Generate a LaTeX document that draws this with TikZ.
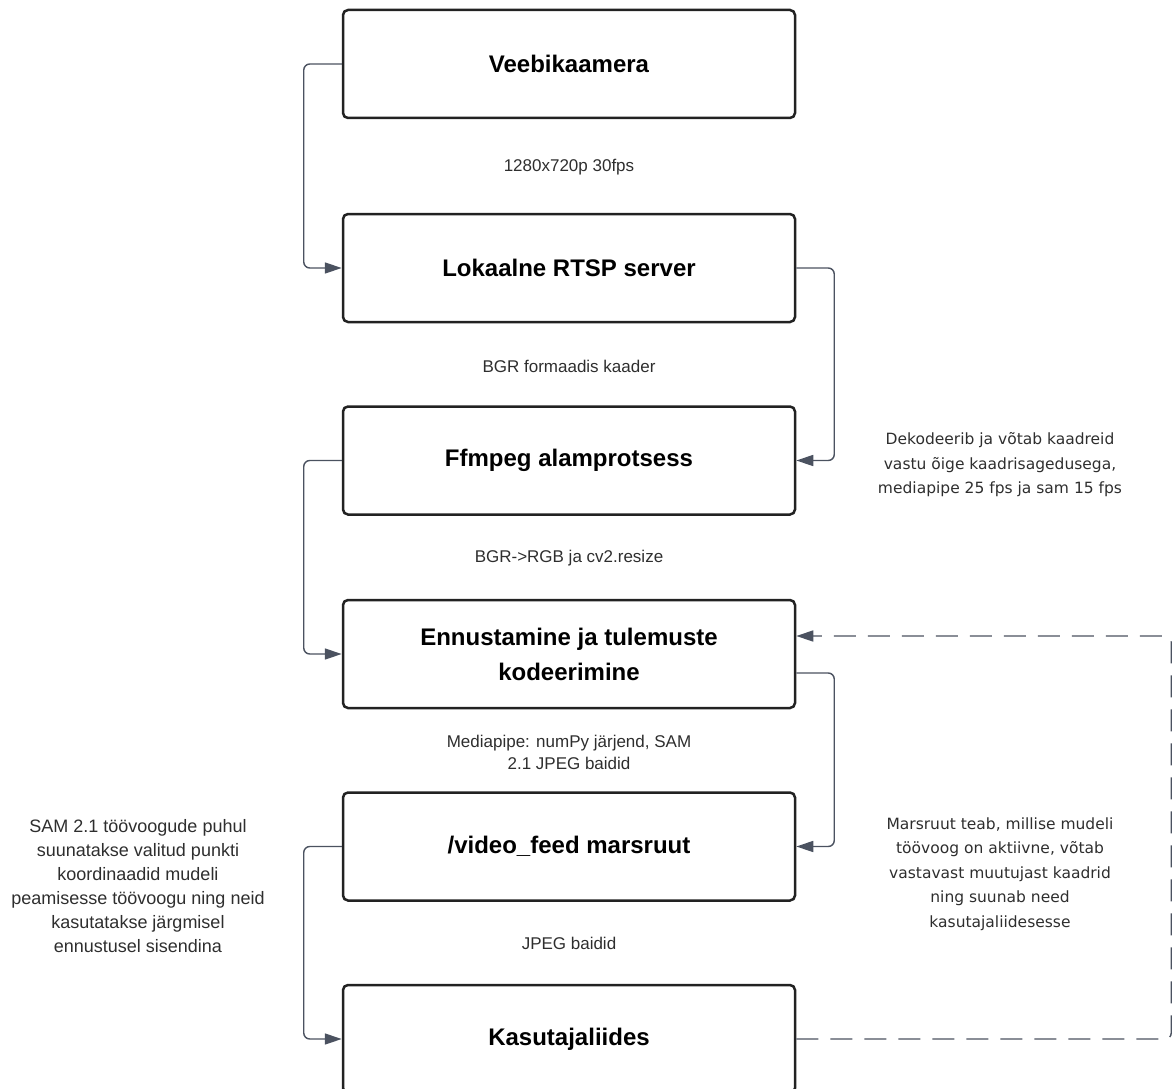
\documentclass[tikz,border=0pt]{standalone}
\usepackage{fontspec}
\setmainfont{Liberation Sans}
\newfontfamily\notefont{DejaVu Sans}
\usetikzlibrary{arrows.meta}
\definecolor{boxline}{HTML}{222222}
\definecolor{linkgray}{HTML}{4B5260}
\definecolor{labelgray}{HTML}{2E2E2E}
\tikzset{
  stage/.style={draw=boxline, line width=2.5pt, rounded corners=5pt, fill=white,
    minimum width=452pt, minimum height=108pt, align=center,
    font=\fontsize{24}{35}\selectfont\bfseries},
  link/.style={draw=linkgray, line width=1.4pt, rounded corners=6pt,
    -{Triangle[length=17pt,width=11pt]}},
  feedback/.style={link, dash pattern=on 22pt off 12pt},
  flowlabel/.style={font=\fontsize{17}{22}\selectfont, text=labelgray, align=center},
  sidenote/.style={font=\notefont\fontsize{15.5}{24.5}\selectfont, text=labelgray, align=center},
  leftnote/.style={font=\fontsize{18}{24}\selectfont, text=labelgray, align=center}
}
\begin{document}
\begin{tikzpicture}[x=1pt, y=-1pt]
  \useasboundingbox (0,0) rectangle (1176,1089);
  % pipeline stages
  \node[stage] (cam) at (569,64) {Veebikaamera};
  \node[stage] (rtsp) at (569,268) {Lokaalne RTSP server};
  \node[stage] (ffm) at (569,460.5) {Ffmpeg alamprotsess};
  \node[stage] (pred) at (569,654) {Ennustamine ja tulemuste\\kodeerimine};
  \node[stage] (route) at (569,846.5) {/video\_feed marsruut};
  \node[stage] (ui) at (569,1039) {Kasutajaliides};
  % labels between stages
  \node[flowlabel] (l1) at (569,167) {1280x720p 30fps};
  \node[flowlabel] (l2) at (569,366) {BGR formaadis kaader};
  \node[flowlabel] (l3) at (569,558) {BGR->RGB ja cv2.resize};
  \node[flowlabel] (l4) at (569,752) {Mediapipe: numPy järjend, SAM\\2.1 JPEG baidid};
  \node[flowlabel] (l5) at (569,943) {JPEG baidid};
  % side notes
  \node[sidenote] (n1) at (1000,465) {Dekodeerib ja võtab kaadreid\\vastu õige kaadrisagedusega,\\mediapipe 25 fps ja sam 15 fps};
  \node[sidenote] (n2) at (1000,874) {Marsruut teab, millise mudeli\\töövoog on aktiivne, võtab\\vastavast muutujast kaadrid\\ning suunab need\\kasutajaliidesesse};
  \node[leftnote] (n3) at (138,886) {SAM 2.1 töövoogude puhul\\suunatakse valitud punkti\\koordinaadid mudeli\\peamisesse töövoogu ning neid\\kasutatakse järgmisel\\ennustusel sisendina};
  % connectors
  \draw[link] (cam.west) -- ++(-38,0) |- (rtsp.west);
  \draw[link] (rtsp.east) -- ++(38,0) |- (ffm.east);
  \draw[link] (ffm.west) -- ++(-38,0) |- (pred.west);
  \draw[link] ([yshift=-19pt]pred.east) -- ++(38,0) |- (route.east);
  \draw[link] (route.west) -- ++(-38,0) |- (ui.west);
  \draw[feedback] (ui.east) -- ++(375,0) |- ([yshift=18pt]pred.east);
\end{tikzpicture}
\end{document}
